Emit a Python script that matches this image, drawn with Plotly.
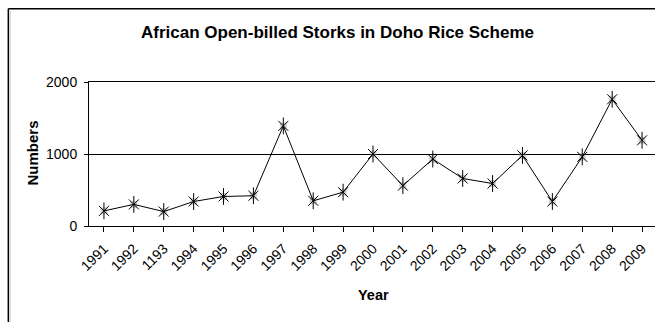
import plotly.graph_objects as go

# Annual counts of African Open-billed Storks, Doho Rice Scheme
years = ["1991", "1992", "1193", "1994", "1995", "1996", "1997", "1998", "1999",
         "2000", "2001", "2002", "2003", "2004", "2005", "2006", "2007", "2008", "2009"]
counts = [210, 300, 200, 340, 410, 420, 1390, 350, 470,
          1000, 560, 930, 660, 590, 980, 340, 960, 1760, 1190]
y_ticks = [0, 1000, 2000]

FONT = "Liberation Sans, Arial, sans-serif"
W, H = 655, 322
L, R, T, B = 88.7, 655.0, 82.3, 226.3   # plot area in pixels


def px_x(px):
    return (px - L) / (R - L)


def px_y(py):
    return (B - py) / (B - T)


xi = list(range(len(years)))

fig = go.Figure()
# soft grey halo behind each marker
fig.add_trace(go.Scatter(
    x=xi, y=counts, mode="markers",
    marker=dict(symbol="square", size=7, color="rgba(150,150,150,0.45)", line=dict(width=0)),
    hoverinfo="skip", showlegend=False))
# connecting line with the diagonal part of the star marker
fig.add_trace(go.Scatter(
    x=xi, y=counts, mode="lines+markers",
    line=dict(color="black", width=1),
    marker=dict(symbol="x-thin-open", size=10, color="black", line=dict(width=1, color="black")),
    showlegend=False))
# vertical stroke of the star marker
fig.add_trace(go.Scatter(
    x=xi, y=counts, mode="markers",
    marker=dict(symbol="line-ns-open", size=12, color="black", line=dict(width=1, color="black")),
    hoverinfo="skip", showlegend=False))

# chart frame (top and left edges visible)
frame = dict(type="line", xref="paper", yref="paper", line=dict(color="black", width=1.5))
shapes = [
    dict(frame, x0=px_x(8), x1=px_x(700), y0=px_y(9), y1=px_y(9)),
    dict(frame, x0=px_x(8), x1=px_x(8), y0=px_y(9), y1=px_y(400)),
    dict(type="line", xref="paper", yref="paper", line=dict(color="#c8c8c8", width=1),
         x0=px_x(9.8), x1=px_x(9.8), y0=px_y(11), y1=px_y(400)),
]

fig.update_layout(
    width=W, height=H,
    margin=dict(l=L, r=W - R, t=T, b=H - B, pad=0),
    paper_bgcolor="white", plot_bgcolor="white",
    font=dict(family=FONT, color="black", size=14),
    showlegend=False,
    shapes=shapes,
    annotations=[
        dict(text="<b>African Open-billed Storks in Doho Rice Scheme</b>",
             xref="paper", yref="paper", x=px_x(337), y=px_y(33),
             xanchor="center", yanchor="middle", showarrow=False,
             font=dict(size=17, family=FONT, color="black")),
        dict(text="<b>Numbers</b>", textangle=-90,
             xref="paper", yref="paper", x=px_x(32.5), y=px_y(153),
             xanchor="center", yanchor="middle", showarrow=False,
             font=dict(size=15, family=FONT, color="black")),
        dict(text="<b>Year</b>",
             xref="paper", yref="paper", x=px_x(373.8), y=px_y(295),
             xanchor="center", yanchor="middle", showarrow=False,
             font=dict(size=14.5, family=FONT, color="black")),
    ],
)

fig.update_xaxes(
    tickmode="array", tickvals=xi, ticktext=years,
    range=[-0.5, len(years) - 0.5 - (657 - R) / ((R - L) / 18.93)],
    tickangle=-45, ticks="outside", ticklen=5, tickwidth=1, tickcolor="black",
    showline=True, linecolor="black", linewidth=1, mirror=True,
    showgrid=False, zeroline=False, ticklabelstandoff=3,
    tickfont=dict(size=14, family=FONT, color="black"),
)
fig.update_yaxes(
    range=[0, 2000], tickvals=y_ticks,
    ticks="outside", ticklen=4, tickwidth=1, tickcolor="black",
    showline=True, linecolor="black", linewidth=1,
    showgrid=True, gridcolor="black", gridwidth=1,
    zeroline=False, ticklabelstandoff=4,
    tickfont=dict(size=14, family=FONT, color="black"),
)

fig.write_html("out.html")
